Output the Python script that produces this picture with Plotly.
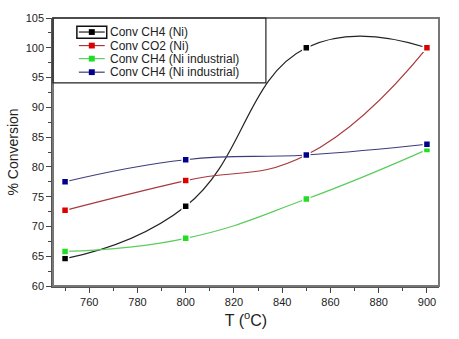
import plotly.graph_objects as go

# Reaction temperature (°C)
temperature = [750, 800, 850, 900]

# Conversion (%) for each catalyst / reactant
conv_ch4_ni = [64.6, 73.4, 100.0, 100.0]
conv_co2_ni = [72.7, 77.7, 82.0, 100.0]
conv_ch4_ind_green = [65.8, 68.0, 74.6, 82.9]
conv_ch4_ind_blue = [77.5, 81.2, 82.0, 83.8]

series_names = [
    "Conv CH4 (Ni)",
    "Conv CO2 (Ni)",
    "Conv CH4 (Ni industrial)",
    "Conv CH4 (Ni industrial)",
]

x_ticks = [760, 780, 800, 820, 840, 860, 880, 900]
y_ticks = [60, 65, 70, 75, 80, 85, 90, 95, 100, 105]

styles = [
    dict(line="#222222", marker="#000000"),
    dict(line="#a8383c", marker="#dd0000"),
    dict(line="#5ccc5c", marker="#22dd22"),
    dict(line="#3c3c7c", marker="#00008c"),
]

FONT = "Liberation Sans, Arial, sans-serif"

# page geometry of the plotting area (px)
W, H = 459, 339
ML, MR, MT, MB = 51, 20, 13, 49
PW, PH = W - ML - MR, H - MT - MB


def px_x(px):
    return (px - ML) / PW


def px_y(py):
    return (H - MB - py) / PH


fig = go.Figure()
for name, ys, st in zip(series_names,
                        [conv_ch4_ni, conv_co2_ni, conv_ch4_ind_green, conv_ch4_ind_blue],
                        styles):
    fig.add_trace(go.Scatter(
        x=temperature, y=ys, name=name,
        mode="lines+markers", showlegend=False,
        line=dict(color=st["line"], width=1.2, shape="spline", smoothing=1.3),
        marker=dict(symbol="square", size=7, color=st["marker"],
                    line=dict(color="white", width=1.5)),
    ))

# legend drawn inside the top-left corner of the frame
shapes = [
    dict(type="rect", xref="paper", yref="paper", x0=0, y0=0, x1=1, y1=1,
         line=dict(color="#777777", width=2), layer="above"),
    dict(type="rect", xref="paper", yref="paper",
         x0=0, y0=px_y(80), x1=px_x(265), y1=1,
         line=dict(color="#222222", width=1.2), layer="above"),
    dict(type="rect", xref="paper", yref="paper",
         x0=px_x(75), y0=px_y(34), x1=px_x(105), y1=px_y(21.5),
         line=dict(color="#111111", width=1.5), layer="above"),
]
annotations = []
row_y = [27.5, 41.5, 55.0, 69.0]
for name, st, ry in zip(series_names, styles, row_y):
    shapes.append(dict(type="line", xref="paper", yref="paper",
                       x0=px_x(77), x1=px_x(103), y0=px_y(ry), y1=px_y(ry),
                       line=dict(color=st["line"], width=1.2), layer="above"))
    shapes.append(dict(type="rect", xref="paper", yref="paper",
                       x0=px_x(87), x1=px_x(93), y0=px_y(ry + 3), y1=px_y(ry - 3),
                       fillcolor=st["marker"], line=dict(width=0), layer="above"))
    annotations.append(dict(xref="paper", yref="paper", x=px_x(106.5), y=px_y(ry),
                            xanchor="left", yanchor="middle", showarrow=False,
                            text=name,
                            font=dict(family=FONT, size=12, color="#222222")))

axis_common = dict(
    showgrid=False, zeroline=False,
    showline=True, linecolor="#555555", linewidth=1.5, mirror=False,
    ticks="outside", ticklen=5, tickwidth=1, tickcolor="#444444",
    tickfont=dict(family=FONT, size=11, color="#222222"),
)

fig.update_layout(
    width=W, height=H,
    margin=dict(l=ML, r=MR, t=MT, b=MB),
    paper_bgcolor="white", plot_bgcolor="white",
    showlegend=False,
    xaxis=dict(
        axis_common,
        range=[745, 905], tickvals=x_ticks,
        minor=dict(dtick=10, ticks="outside", ticklen=3, tickcolor="#444444"),
        title=dict(text="T (<sup>o</sup>C)", standoff=8,
                   font=dict(family=FONT, size=16, color="#222222")),
    ),
    yaxis=dict(
        axis_common,
        range=[60, 105], tickvals=y_ticks,
        minor=dict(dtick=2.5, ticks="outside", ticklen=3, tickcolor="#444444"),
        title=dict(text="% Conversion", standoff=4,
                   font=dict(family=FONT, size=14, color="#222222")),
    ),
    shapes=shapes,
    annotations=annotations,
)

fig.write_html("out.html")
